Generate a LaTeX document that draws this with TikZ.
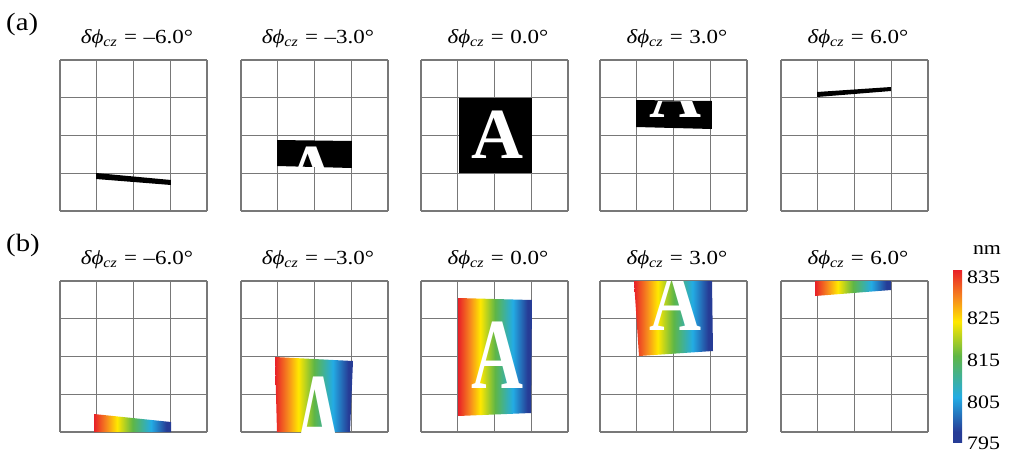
\documentclass[tikz,border=0pt]{standalone}
\usepackage{fontspec}
\setmainfont{Liberation Serif}[FakeStretch=1.15]
\newfontfamily\letterfont{Liberation Serif}
\usepackage{graphicx}
\usetikzlibrary{positioning}
\definecolor{GridGray}{RGB}{120,120,120}
\definecolor{SpecRed}{RGB}{232,32,40}
\definecolor{SpecOrange}{RGB}{246,135,30}
\definecolor{SpecYellow}{RGB}{255,232,0}
\definecolor{SpecGreen}{RGB}{95,182,70}
\definecolor{SpecCyan}{RGB}{35,172,228}
\definecolor{SpecBlue}{RGB}{38,60,150}
\pgfdeclarehorizontalshading{spectrum}{100bp}{color(0bp)=(SpecRed); color(25bp)=(SpecRed); color(33bp)=(SpecOrange); color(40bp)=(SpecYellow); color(50bp)=(SpecGreen); color(62bp)=(SpecCyan); color(72bp)=(SpecBlue); color(100bp)=(SpecBlue)}
\newcommand{\dphicz}[1]{\textit{δϕ}\textsubscript{\textit{cz}}\,\,=\,\,#1°}

\begin{document}
\begin{tikzpicture}[x=1pt, y=-1pt,
  gridline/.style={draw=GridGray, line width=1.1pt},
  ttl/.style={anchor=base, inner sep=0pt, font=\fontsize{20}{23}\selectfont},
  tag/.style={anchor=base west, inner sep=0pt, font=\fontsize{25}{28}\selectfont},
  letter/.style={inner sep=0pt, text=white, font=\letterfont\bfseries\fontsize{72}{72}\selectfont},
  cbar/.style={shading=spectrum, shading angle=-90, minimum width=9pt,
    minimum height=172pt, inner sep=0pt},
  cbtick/.style={anchor=west, inner sep=0pt, font=\fontsize{19}{22}\selectfont}
]
\useasboundingbox (0,0) rectangle (1010,459);

% --- Grids (4 x 4 cells in every panel)
\foreach \px in {60,241,421,600,781}
  \foreach \py in {60,281}
    \foreach \k in {0,...,4}{
      \draw[gridline] (\px+36.75*\k,\py) -- (\px+36.75*\k,\py+151);
      \draw[gridline] (\px,\py+37.75*\k) -- (\px+147,\py+37.75*\k);
    }

% --- Row labels and panel titles
\node[tag] (rowa) at (6,30)  {(a)};
\node[tag] (rowb) at (6,251) {(b)};
\foreach \px/\val/\nm in {60/–6.0/1, 241/–3.0/2, 421/0.0/3, 600/3.0/4, 781/6.0/5}{
  \node[ttl] (ta\nm) at (\px+77,43)  {\dphicz{\val}};
  \node[ttl] (tb\nm) at (\px+77,264) {\dphicz{\val}};
}

% --- (a) binary images
\begin{scope}
  \clip (96,173) -- (171,180) -- (171,185) -- (96,179) -- cycle;
  \fill (96,173) rectangle (171,185);
\end{scope}
\begin{scope}
  \clip (277,140) -- (352,141) -- (352,168) -- (277,166) -- cycle;
  \fill (277,140) rectangle (352,168);
  \node[letter, anchor=north] (la2) at (311,147) {A};
\end{scope}
\begin{scope}
  \clip (459,98) rectangle (532,173);
  \fill (459,98) rectangle (532,173);
  \node[letter, anchor=south] (la3) at (497,159) {A};
\end{scope}
\begin{scope}
  \clip (636,100) -- (712,101) -- (712,129) -- (636,127) -- cycle;
  \fill (636,100) rectangle (712,129);
  \node[letter, anchor=south] (la4) at (675,118) {A};
\end{scope}
\begin{scope}
  \clip (817,92) -- (891,87) -- (891,91) -- (817,97) -- cycle;
  \fill (817,87) rectangle (891,97);
\end{scope}

% --- (b) spectral images
\begin{scope}
  \clip (94,414) -- (171,422) -- (171,432) -- (94,432) -- cycle;
  \shade[shading=spectrum] (94,414) rectangle (171,432);
\end{scope}
\begin{scope}
  \clip (275,357) -- (353,361) -- (350,432) -- (277,432) -- cycle;
  \shade[shading=spectrum] (275,357) rectangle (353,432);
  \node[letter, anchor=north] (lb2) at (318,377) {\scalebox{1}[1.8]{A}};
\end{scope}
\begin{scope}
  \clip (458,298) -- (532,300) -- (531,413) -- (458,416) -- cycle;
  \shade[shading=spectrum] (458,298) rectangle (532,416);
  \node[letter, anchor=south] (lb3) at (497,389) {\scalebox{1}[1.4]{A}};
\end{scope}
\begin{scope}
  \clip (634,281) -- (712,281) -- (713,351) -- (639,356) -- cycle;
  \shade[shading=spectrum] (634,281) rectangle (713,356);
  \node[letter, anchor=south] (lb4) at (675,331) {\scalebox{1}[1.25]{A}};
\end{scope}
\begin{scope}
  \clip (815,281) -- (891,281) -- (891,290) -- (815,296) -- cycle;
  \shade[shading=spectrum] (815,281) rectangle (891,296);
\end{scope}

% --- Colour bar
\node[cbar] (cbar) at (957.5,356) {};
\node[cbtick, anchor=base] (unit) at (987,254) {nm};
\foreach \val/\yy in {835/277, 825/318, 815/360, 805/402, 795/443}
  \node[cbtick] (tick\val) at (967,\yy) {\val};

\end{tikzpicture}
\end{document}
